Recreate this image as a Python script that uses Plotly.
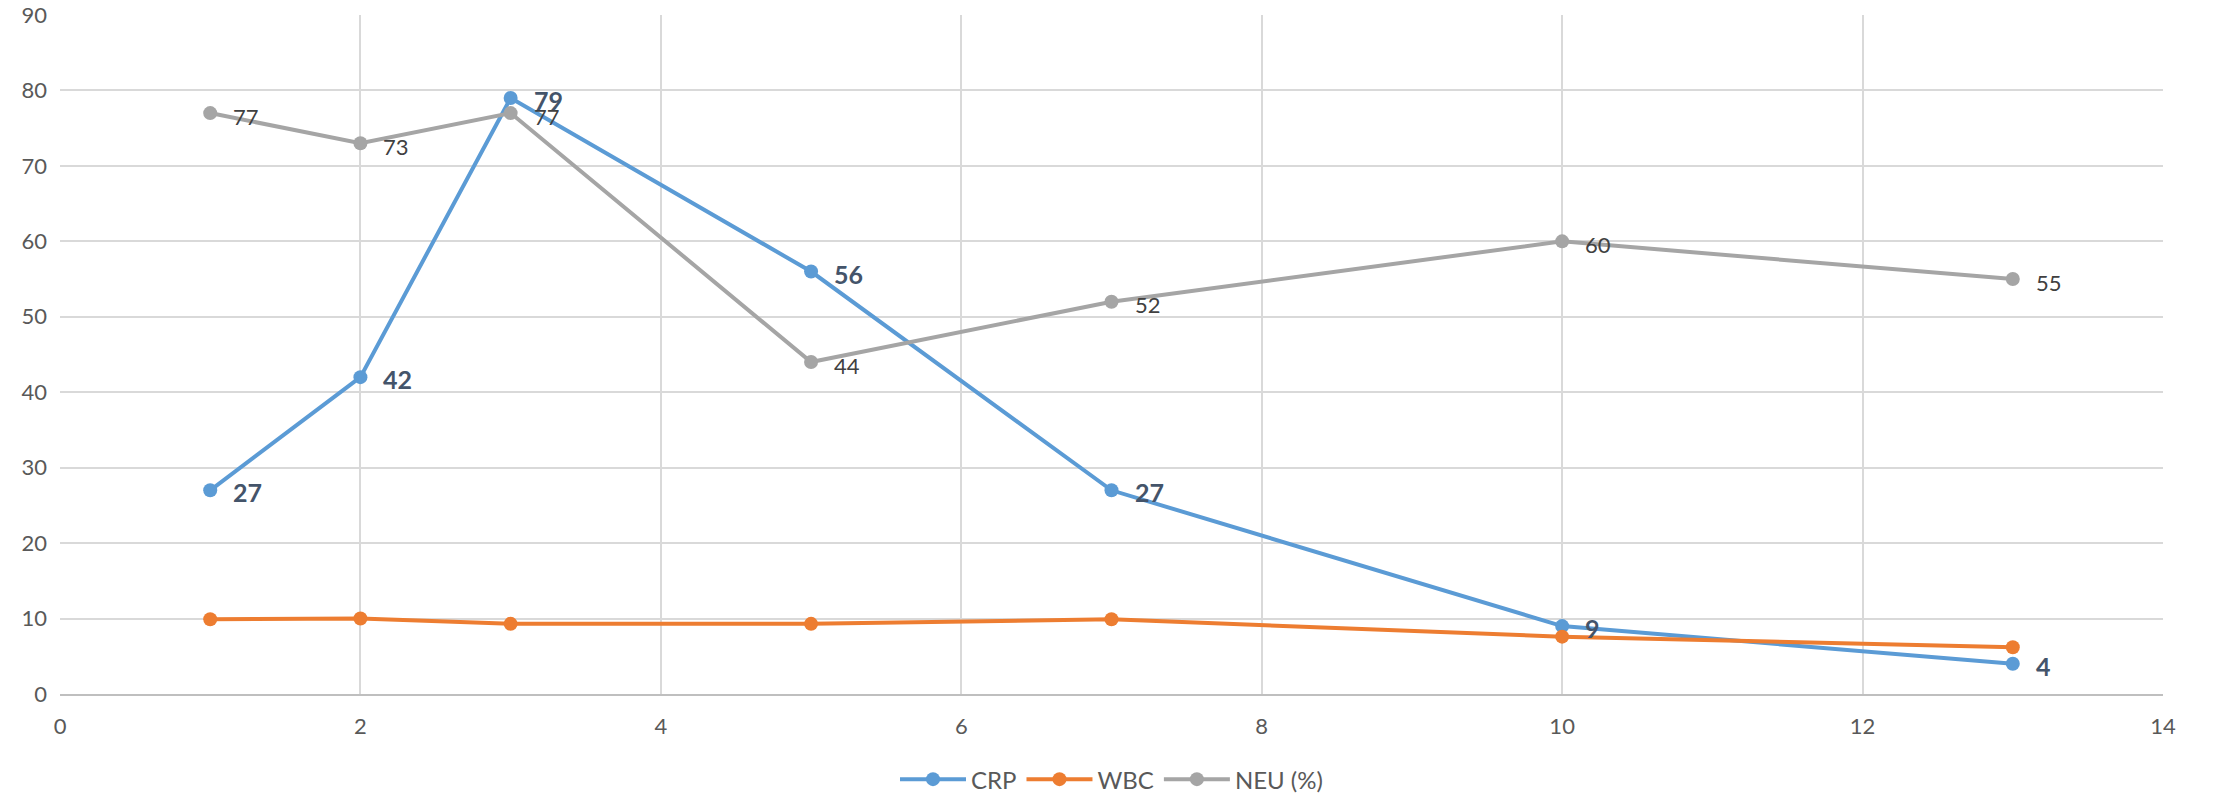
import plotly.graph_objects as go

days = [1, 2, 3, 5, 7, 10, 13]
crp = [27, 42, 79, 56, 27, 9, 4]
wbc = [9.9, 10.0, 9.3, 9.3, 9.9, 7.6, 6.2]
neu = [77, 73, 77, 44, 52, 60, 55]

FONT = "Lato, 'Open Sans', sans-serif"

fig = go.Figure()
fig.add_trace(go.Scatter(
    x=days, y=crp, name="CRP", mode="lines+markers",
    line=dict(color="#5B9BD5", width=4),
    marker=dict(color="#5B9BD5", size=14),
))
fig.add_trace(go.Scatter(
    x=days, y=wbc, name="WBC", mode="lines+markers",
    line=dict(color="#ED7D31", width=4),
    marker=dict(color="#ED7D31", size=14),
))
fig.add_trace(go.Scatter(
    x=days, y=neu, name="NEU (%)", mode="lines+markers",
    line=dict(color="#A5A5A5", width=4),
    marker=dict(color="#A5A5A5", size=14),
))

for xv, yv in zip(days, crp):
    fig.add_annotation(x=xv, y=yv, text=f"<b>{yv}</b>", showarrow=False,
                       xanchor="left", yanchor="middle", xshift=21, yshift=-2,
                       font=dict(family=FONT, size=25, color="#44546A"))
for xv, yv in zip(days, neu):
    fig.add_annotation(x=xv, y=yv, text=str(yv), showarrow=False,
                       xanchor="left", yanchor="middle", xshift=21, yshift=-3,
                       font=dict(family=FONT, size=22, color="#404040"))

fig.update_layout(
    width=2219, height=800,
    margin=dict(l=60, r=56, t=15, b=106, autoexpand=False),
    paper_bgcolor="white", plot_bgcolor="white",
    font=dict(family=FONT, size=22, color="#595959"),
    showlegend=True,
    legend=dict(orientation="h", x=0.5, xanchor="center", y=-0.126, yanchor="middle",
                font=dict(size=24, color="#595959"), itemwidth=66),
)
fig.update_xaxes(range=[0, 14], dtick=2, showgrid=True, gridcolor="#D9D9D9", gridwidth=1.5,
                 zeroline=False, showline=True, linecolor="#BFBFBF", linewidth=1.5,
                 ticks="", tickfont=dict(size=22, color="#595959"), automargin=False,
                 ticklabelstandoff=12)
fig.update_yaxes(range=[0, 90], dtick=10, showgrid=True, gridcolor="#D9D9D9", gridwidth=1.5,
                 zeroline=False, showline=False,
                 ticks="", tickfont=dict(size=22, color="#595959"), automargin=False,
                 ticklabelstandoff=12)

fig.write_html("out.html", post_script="document.body.style.margin='0';",
               config={"displayModeBar": False})
